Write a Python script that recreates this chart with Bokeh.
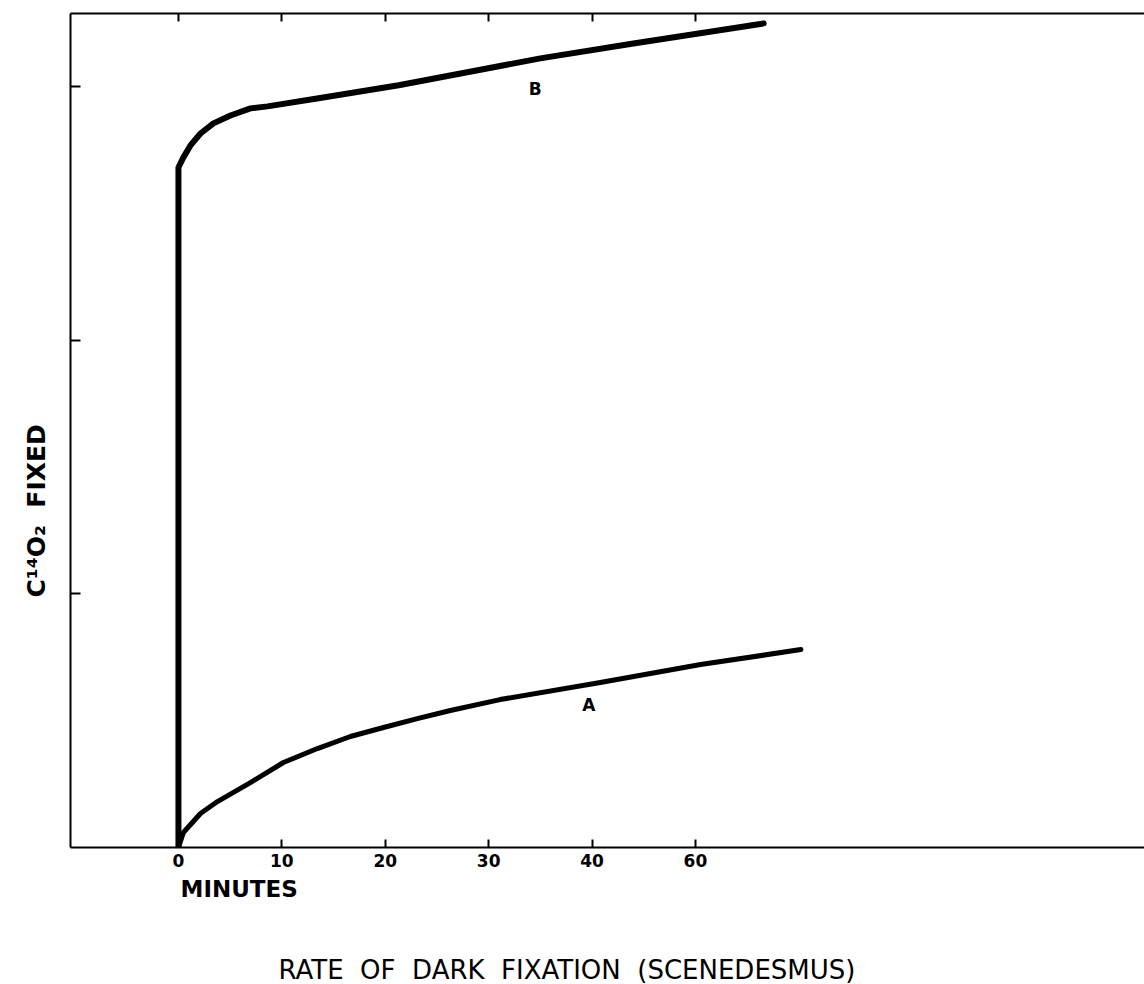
from bokeh.plotting import figure
from bokeh.models import Range1d, FixedTicker, LinearAxis, Label, Title
from bokeh.embed import file_html
from bokeh.resources import INLINE

# ---- data (x in axis-tick units, y in left-tick units)
curve_a_x = [0.0, 0.48, 2.13, 3.77, 6.96, 10.15, 13.44, 16.63, 19.83, 23.1, 26.3, 31.1, 40.8, 50.5, 60.2]
curve_a_y = [0.0, 0.059, 0.134, 0.181, 0.256, 0.335, 0.390, 0.4375, 0.473, 0.508, 0.540, 0.583, 0.650, 0.721, 0.780]

curve_b_x = [0.0, 0.0, 0.0, 0.0, 0.48, 1.16, 2.13, 3.38, 5.03, 6.96, 8.61, 13.4, 21.3, 35.0, 44.0, 56.6]
curve_b_y = [0.0, 2.471, 2.629, 2.680, 2.720, 2.767, 2.814, 2.854, 2.885, 2.913, 2.921, 2.952, 3.004, 3.110, 3.169, 3.248]

x_ticks = [0, 10, 20, 30, 40, 50]
x_tick_labels = ["0", "10", "20", "30", "40", "60"]
y_ticks = [1, 2, 3]

FONT = "DejaVu Sans"
SP = "\u00a0\u00a0"
TITLE = "RATE" + SP + "OF" + SP + "DARK" + SP + "FIXATION" + SP + "(SCENEDESMUS)"

p = figure(width=1144, height=984, output_backend="svg", toolbar_location=None,
           x_range=Range1d(-10.44, 93.43), y_range=Range1d(0, 3.287),
           x_axis_location=None, y_axis_location=None,
           min_border_left=70, min_border_top=13, min_border_right=0, min_border_bottom=137)
p.outline_line_color = None
p.grid.visible = False
p.background_fill_color = "white"
p.border_fill_color = "white"

# bottom axis
xb = LinearAxis(ticker=FixedTicker(ticks=x_ticks),
                major_label_overrides={t: l for t, l in zip(x_ticks, x_tick_labels)})
xb.axis_line_width = 2
xb.major_tick_line_width = 2
xb.major_tick_in = 8
xb.major_tick_out = 0
xb.minor_tick_line_color = None
xb.major_label_standoff = 6
xb.major_label_text_font = FONT
xb.major_label_text_font_style = "bold"
xb.major_label_text_font_size = "17px"
xb.major_label_text_color = "black"
p.add_layout(xb, "below")

# top axis (ticks only)
xt = LinearAxis(ticker=FixedTicker(ticks=x_ticks))
xt.axis_line_width = 2
xt.major_tick_line_width = 2
xt.major_tick_in = 8
xt.major_tick_out = 0
xt.minor_tick_line_color = None
xt.major_label_text_color = None
xt.major_label_text_font_size = "1px"
xt.major_label_standoff = 0
p.add_layout(xt, "above")

# left axis (ticks only)
yl = LinearAxis(ticker=FixedTicker(ticks=y_ticks))
yl.axis_line_width = 2
yl.major_tick_line_width = 2
yl.major_tick_in = 10
yl.major_tick_out = 0
yl.minor_tick_line_color = None
yl.major_label_text_color = None
yl.major_label_text_font_size = "1px"
yl.major_label_standoff = 0
p.add_layout(yl, "left")

# curves
p.line(curve_b_x, curve_b_y, line_width=6, line_color="black", line_join="round", line_cap="round")
p.line(curve_a_x, curve_a_y, line_width=5, line_color="black", line_join="round", line_cap="round")

# curve labels
p.add_layout(Label(x=39.7, y=0.56, text="A", text_font=FONT, text_font_style="bold", text_color="black",
                   text_font_size="17px", text_align="center", text_baseline="middle"))
p.add_layout(Label(x=34.5, y=2.99, text="B", text_font=FONT, text_font_style="bold", text_color="black",
                   text_font_size="17px", text_align="center", text_baseline="middle"))

# axis texts as titles in the side panels
p.add_layout(Title(text="MINUTES", align="left", offset=110, standoff=8,
                   text_font=FONT, text_font_style="bold", text_font_size="23px", text_color="black"), "below")
try:
    main_title = Title(text="\n\n" + TITLE, align="left", offset=208, standoff=-25, text_font=FONT,
                       text_font_style="normal", text_font_size="26px", text_color="black")
except Exception:
    main_title = Title(text="\n" + TITLE, align="left", offset=208, standoff=17, text_font=FONT,
                       text_font_style="normal", text_font_size="26px", text_color="black")
p.add_layout(main_title, "below")
p.add_layout(Title(text="C¹⁴O₂" + SP + "FIXED", align="left", offset=250, standoff=39, text_font=FONT,
                   text_font_style="bold", text_font_size="25px", text_color="black"), "left")

open("out.html", "w").write(file_html(p, INLINE))
